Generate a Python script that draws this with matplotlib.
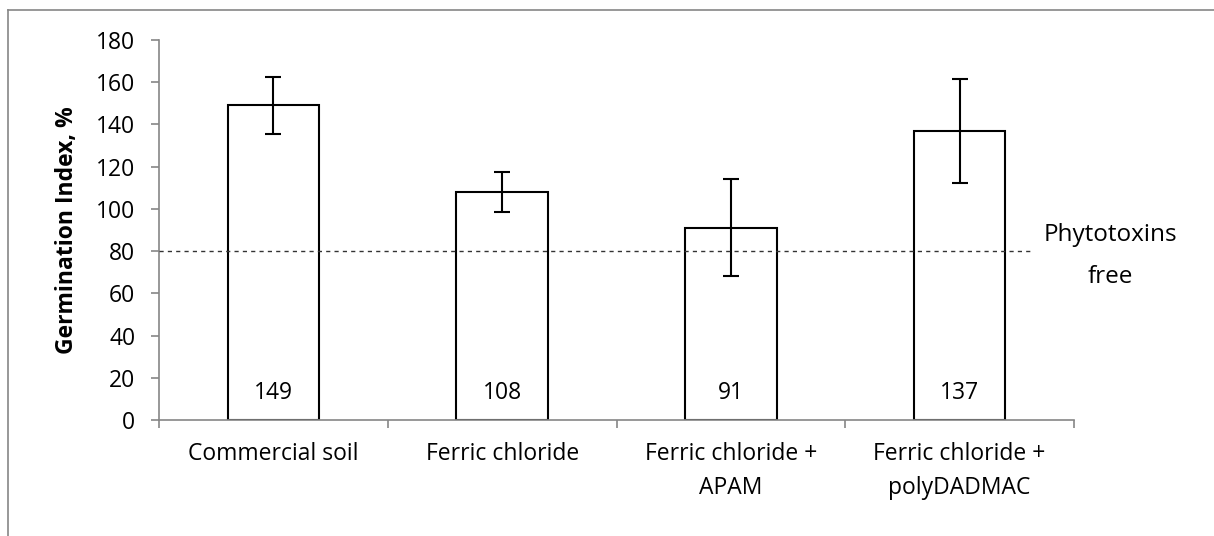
import matplotlib.pyplot as plt
from matplotlib.lines import Line2D

plt.rcParams['font.family'] = ['Open Sans', 'DejaVu Sans']

# data
categories = ['Commercial soil', 'Ferric chloride', 'Ferric chloride +\nAPAM',
              'Ferric chloride +\npolyDADMAC']
values = [149, 108, 91, 137]
errors = [13.5, 9.5, 23, 24.5]
threshold = 80

grey = '#868686'
fs = 16.5

fig = plt.figure(figsize=(12.14, 5.36), dpi=100)
ax = fig.add_axes([159 / 1214, 1 - 420 / 536, (1074 - 159) / 1214, 380 / 536])

x = range(len(categories))
ax.bar(x, values, width=0.4, color='white', edgecolor='black', linewidth=1.5, zorder=2)
ax.errorbar(x, values, yerr=errors, fmt='none', ecolor='black', elinewidth=1.5,
            capsize=6, capthick=1.5, zorder=3)
ax.axhline(threshold, xmin=0, xmax=0.952, color='#333333', linestyle=(0, (3, 3)),
           linewidth=1, zorder=4)

for i, v in enumerate(values):
    ax.text(i, 13, str(v), ha='center', va='center', fontsize=fs)

ax.set_xlim(-0.5, len(categories) - 0.5)
ax.set_ylim(0, 180)
ax.set_yticks(range(0, 181, 20))
ax.set_xticks(list(x))
ax.set_xticklabels(categories, fontsize=fs, linespacing=1.55)
ax.set_xticks([i - 0.5 for i in range(len(categories) + 1)], minor=True)
ax.tick_params(axis='x', which='major', length=0, pad=16)
ax.tick_params(axis='x', which='minor', length=6, width=1.2, color=grey, direction='out')
ax.tick_params(axis='y', length=6, width=1.2, color=grey, labelsize=fs, pad=11)

for s in ['top', 'right']:
    ax.spines[s].set_visible(False)
for s in ['left', 'bottom']:
    ax.spines[s].set_color(grey)
    ax.spines[s].set_linewidth(1.2)

ax.set_ylabel('Germination Index, %', fontsize=fs, fontweight='bold', labelpad=12)

fig.text(1110 / 1214, 1 - 235 / 536, 'Phytotoxins', ha='center', va='center', fontsize=17.5)
fig.text(1110 / 1214, 1 - 277 / 536, 'free', ha='center', va='center', fontsize=17.5)

# outer chart frame (only left and top visible in the crop)
fig.add_artist(Line2D([8 / 1214, 8 / 1214], [0, 1 - 10 / 536], color=grey, linewidth=1.2))
fig.add_artist(Line2D([8 / 1214, 1], [1 - 10 / 536, 1 - 10 / 536], color=grey, linewidth=1.2))

fig.savefig('out.png', dpi=100)
